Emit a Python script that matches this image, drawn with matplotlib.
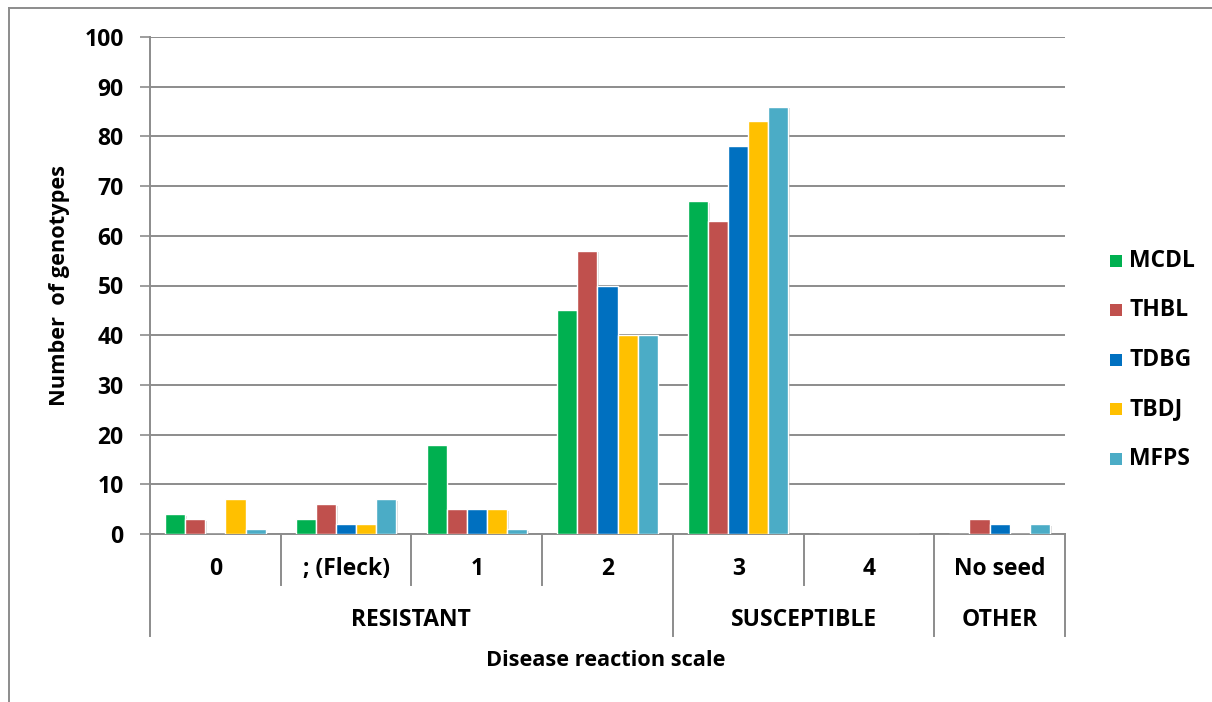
import matplotlib
matplotlib.use("Agg")
import matplotlib.pyplot as plt
import matplotlib.patheffects as pe
from matplotlib.patches import Rectangle
from matplotlib.lines import Line2D
import numpy as np

categories = ["0", "; (Fleck)", "1", "2", "3", "4", "No seed"]
groups = ["RESISTANT", "SUSCEPTIBLE", "OTHER"]
group_spans = [(0, 3), (4, 5), (6, 6)]
series_names = ["MCDL", "THBL", "TDBG", "TBDJ", "MFPS"]
MCDL = [4, 3, 18, 45, 67, 0, 0]
THBL = [3, 6, 5, 57, 63, 0, 3]
TDBG = [0, 2, 5, 50, 78, 0, 2]
TBDJ = [7, 2, 5, 40, 83, 0, 0]
MFPS = [1, 7, 1, 40, 86, 0, 2]
yticks = list(range(0, 101, 10))

colors = ["#00B050", "#C0504D", "#0070C0", "#FFC000", "#4BACC6"]
series = [MCDL, THBL, TDBG, TBDJ, MFPS]

plt.rcParams['font.family'] = ['Open Sans', 'DejaVu Sans']
FS = 16.5
FS_T = 15.7
W, H = 1212, 702
fig = plt.figure(figsize=(W / 100, H / 100), dpi=100)
L, R, T, B = 150, 1065, 37, 534
ax = fig.add_axes([L / W, 1 - B / H, (R - L) / W, (B - T) / H])

n = len(series)
bw = 1 / (n + 1.5)
x = np.arange(len(categories))
shadow = [pe.SimplePatchShadow(offset=(1.2, -1.2), shadow_rgbFace="#999999", alpha=0.35), pe.Normal()]
for i, (vals, c) in enumerate(zip(series, colors)):
    pos = x - 0.5 + 0.75 * bw + (i + 0.5) * bw
    bars = ax.bar(pos, vals, width=bw, color=c, edgecolor="white", linewidth=1, zorder=3)
    for b in bars:
        if b.get_height() > 0:
            b.set_path_effects(shadow)

ax.set_xlim(-0.5, len(categories) - 0.5)
ax.set_ylim(0, 100)
ax.set_yticks(yticks)
ax.set_yticklabels([str(t) for t in yticks], fontsize=FS, fontweight="bold")
ax.tick_params(axis="y", length=7, width=1.2, color="#8C8C8C", pad=12, direction="out")
ax.set_xticks([])
ax.grid(axis="y", color="#8C8C8C", linewidth=1.4, zorder=0)
for s in ["top", "right"]:
    ax.spines[s].set_visible(False)
for s in ["left", "bottom"]:
    ax.spines[s].set_color("#8C8C8C")
    ax.spines[s].set_linewidth(1.4)

trans = ax.get_xaxis_transform()
y_row1 = (B - 585) / (B - T)
y_row2 = (B - 636) / (B - T)
long_bounds = set([-0.5] + [e + 0.5 for _, e in group_spans])
for k in range(len(categories) + 1):
    xb = k - 0.5
    yb = y_row2 if xb in long_bounds else y_row1
    ax.add_line(Line2D([xb, xb], [0, yb], transform=trans, color="#8C8C8C", lw=1.4, clip_on=False))

for xi, lab in zip(x, categories):
    ax.text(xi, (B - 569) / (B - T), lab, transform=trans, ha="center", va="center",
            fontsize=FS, fontweight="bold")
for g, (s, e) in zip(groups, group_spans):
    ax.text((s + e) / 2, (B - 620) / (B - T), g, transform=trans, ha="center", va="center",
            fontsize=FS, fontweight="bold")

fig.text(606 / W, 1 - 660 / H, "Disease reaction scale", ha="center", va="center",
         fontsize=FS_T, fontweight="bold")
fig.text(60 / W, 1 - 285 / H, "Number  of genotypes", ha="center", va="center",
         rotation=90, fontsize=FS_T, fontweight="bold")

leg_y = [261, 310, 360, 409, 459]
for name, c, yy in zip(series_names, colors, leg_y):
    fig.patches.append(Rectangle(((1110) / W, 1 - (yy + 6) / H), 12 / W, 12 / H,
                                 transform=fig.transFigure, facecolor=c, edgecolor="none"))
    fig.text(1129 / W, 1 - yy / H, name, ha="left", va="center", fontsize=FS, fontweight="bold")

fig.add_artist(Line2D([8.5 / W, 8.5 / W], [0, 1 - 7.5 / H], transform=fig.transFigure, color="#8C8C8C", lw=1.4))
fig.add_artist(Line2D([8.5 / W, 1], [1 - 7.5 / H, 1 - 7.5 / H], transform=fig.transFigure, color="#8C8C8C", lw=1.4))

fig.savefig("out.png", dpi=100, facecolor="white")
